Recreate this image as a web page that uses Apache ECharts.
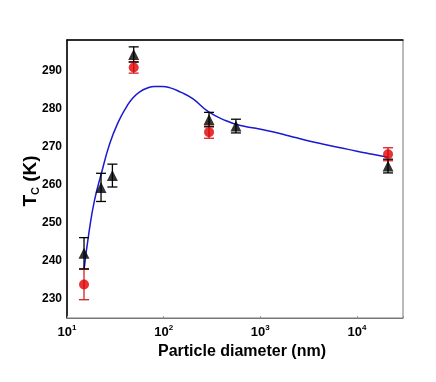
<!DOCTYPE html>
<html>
<head>
<meta charset="utf-8">
<script src="https://cdn.jsdelivr.net/npm/echarts@6/dist/echarts.min.js"></script>
<style>
html, body { margin: 0; padding: 0; background: #fff; }
#chart { width: 436px; height: 382px; }
</style>
</head>
<body>
<div id="chart"></div>
<script>
// particle diameter (nm) and Tc (K)
var triD = [15, 22.5, 29.5, 49, 295, 560, 21000];
var triT = [242, 259.3, 262.4, 294.2, 277.1, 275.4, 264.9];
var triErr = [4.1, 3.7, 3, 2, 1.9, 1.8, 1.8];

var dotD = [15, 49, 295, 21000];
var dotT = [233.8, 290.8, 273.8, 268];
var dotErr = [4, 1.5, 1.6, 1.7];

var fitD = [15, 17, 19.3, 22.6, 27.7, 34, 41.2, 48, 56.6, 68, 80.8, 97, 115, 150, 200, 293, 443, 608, 900, 1340, 2000, 2960, 4400, 6520, 10000, 14500, 21000];
var fitT = [237.6, 248, 256, 262.8, 270.8, 276.5, 280.4, 282.8, 284.4, 285.4, 285.8, 285.8, 285.5, 284.3, 282.6, 279.1, 276.8, 275.6, 274.8, 273.9, 272.8, 271.7, 270.7, 269.8, 268.8, 268, 267.2];

var xTicks = [10, 100, 1000, 10000];

function pairs(xs, ys) {
    var out = [];
    for (var i = 0; i < xs.length; i++) out.push([xs[i], ys[i]]);
    return out;
}
function errData(xs, ys, es) {
    var out = [];
    for (var i = 0; i < xs.length; i++) out.push([xs[i], ys[i] - es[i], ys[i] + es[i]]);
    return out;
}
function errSeries(data, color) {
    return {
        type: 'custom',
        z: 3,
        data: data,
        renderItem: function (params, api) {
            var lo = api.coord([api.value(0), api.value(1)]);
            var hi = api.coord([api.value(0), api.value(2)]);
            var w = 5;
            var st = { stroke: color, lineWidth: 1.3 };
            return {
                type: 'group',
                children: [
                    { type: 'line', shape: { x1: lo[0], y1: lo[1], x2: hi[0], y2: hi[1] }, style: st },
                    { type: 'line', shape: { x1: lo[0] - w, y1: lo[1], x2: lo[0] + w, y2: lo[1] }, style: st },
                    { type: 'line', shape: { x1: hi[0] - w, y1: hi[1], x2: hi[0] + w, y2: hi[1] }, style: st }
                ]
            };
        }
    };
}

var font = 'Liberation Sans, Arial, sans-serif';
var chart = echarts.init(document.getElementById('chart'));
chart.setOption({
    animation: false,
    grid: { left: 67, right: 33, top: 40, bottom: 64, outerBoundsMode: 'none', show: true, borderColor: '#777', borderWidth: 1 },
    // y axis title, T with subscript C
    graphic: [{
        type: 'text',
        x: 31,
        y: 181,
        rotation: Math.PI / 2,
        style: {
            text: '{a|T}{s|C}{a| (K)}',
            align: 'center',
            verticalAlign: 'middle',
            rich: {
                a: { fontFamily: font, fontWeight: 'bold', fontSize: 19, fill: '#000' },
                s: { fontFamily: font, fontWeight: 'bold', fontSize: 11, fill: '#000', padding: [9, 0, 0, 0] }
            }
        }
    }],
    xAxis: [{
        type: 'log',
        logBase: 10,
        min: 10,
        max: 30000,
        name: 'Particle diameter (nm)',
        nameLocation: 'middle',
        nameGap: 24,
        nameTextStyle: { fontFamily: font, fontWeight: 'bold', fontSize: 16, color: '#000', padding: [0, 0, 0, 14] },
        axisLine: { lineStyle: { color: '#777', width: 1 } },
        axisTick: { show: true, inside: true, length: 2, lineStyle: { color: '#999' } },
        splitLine: { show: false },
        minorTick: { show: false },
        axisLabel: {
            margin: 6,
            formatter: function (v) {
                var p = Math.round(Math.log10(v));
                if (xTicks.indexOf(Math.pow(10, p)) < 0 || Math.abs(v - Math.pow(10, p)) > 1e-6 * v) return '';
                return '{b|10}{s|' + p + '}';
            },
            rich: {
                b: { fontFamily: font, fontWeight: 'bold', fontSize: 13, color: '#000' },
                s: { fontFamily: font, fontWeight: 'bold', fontSize: 8, color: '#000', padding: [0, 0, 8, 0] }
            }
        }
    }, {
        type: 'log',
        position: 'top',
        min: 10,
        max: 30000,
        axisLine: { lineStyle: { color: '#000', width: 1.5 } },
        axisTick: { show: false },
        axisLabel: { show: false },
        splitLine: { show: false }
    }],
    yAxis: [{
        type: 'value',
        min: 225,
        max: 298,
        interval: 5,
        axisLine: { show: true, lineStyle: { color: '#000', width: 1.5 } },
        axisTick: { show: false },
        splitLine: { show: false },
        axisLabel: {
            margin: 5,
            fontFamily: font,
            fontWeight: 'bold',
            fontSize: 12,
            color: '#000',
            formatter: function (v) { return v % 10 === 0 ? String(v) : ''; }
        }
    }],
    series: [
        {
            type: 'line',
            data: pairs(fitD, fitT),
            smooth: true,
            showSymbol: false,
            z: 2,
            lineStyle: { color: '#1a1ad0', width: 1.5 }
        },
        errSeries(errData(dotD, dotT, dotErr), '#d42020'),
        errSeries(errData(triD, triT, triErr), '#000'),
        {
            type: 'scatter',
            data: pairs(dotD, dotT),
            symbol: 'circle',
            symbolSize: 10,
            z: 4,
            itemStyle: { color: '#e00000' }
        },
        {
            type: 'scatter',
            data: pairs(triD, triT),
            symbol: 'triangle',
            symbolSize: 11,
            z: 5,
            itemStyle: { color: '#000' }
        }
    ]
});
</script>
</body>
</html>
